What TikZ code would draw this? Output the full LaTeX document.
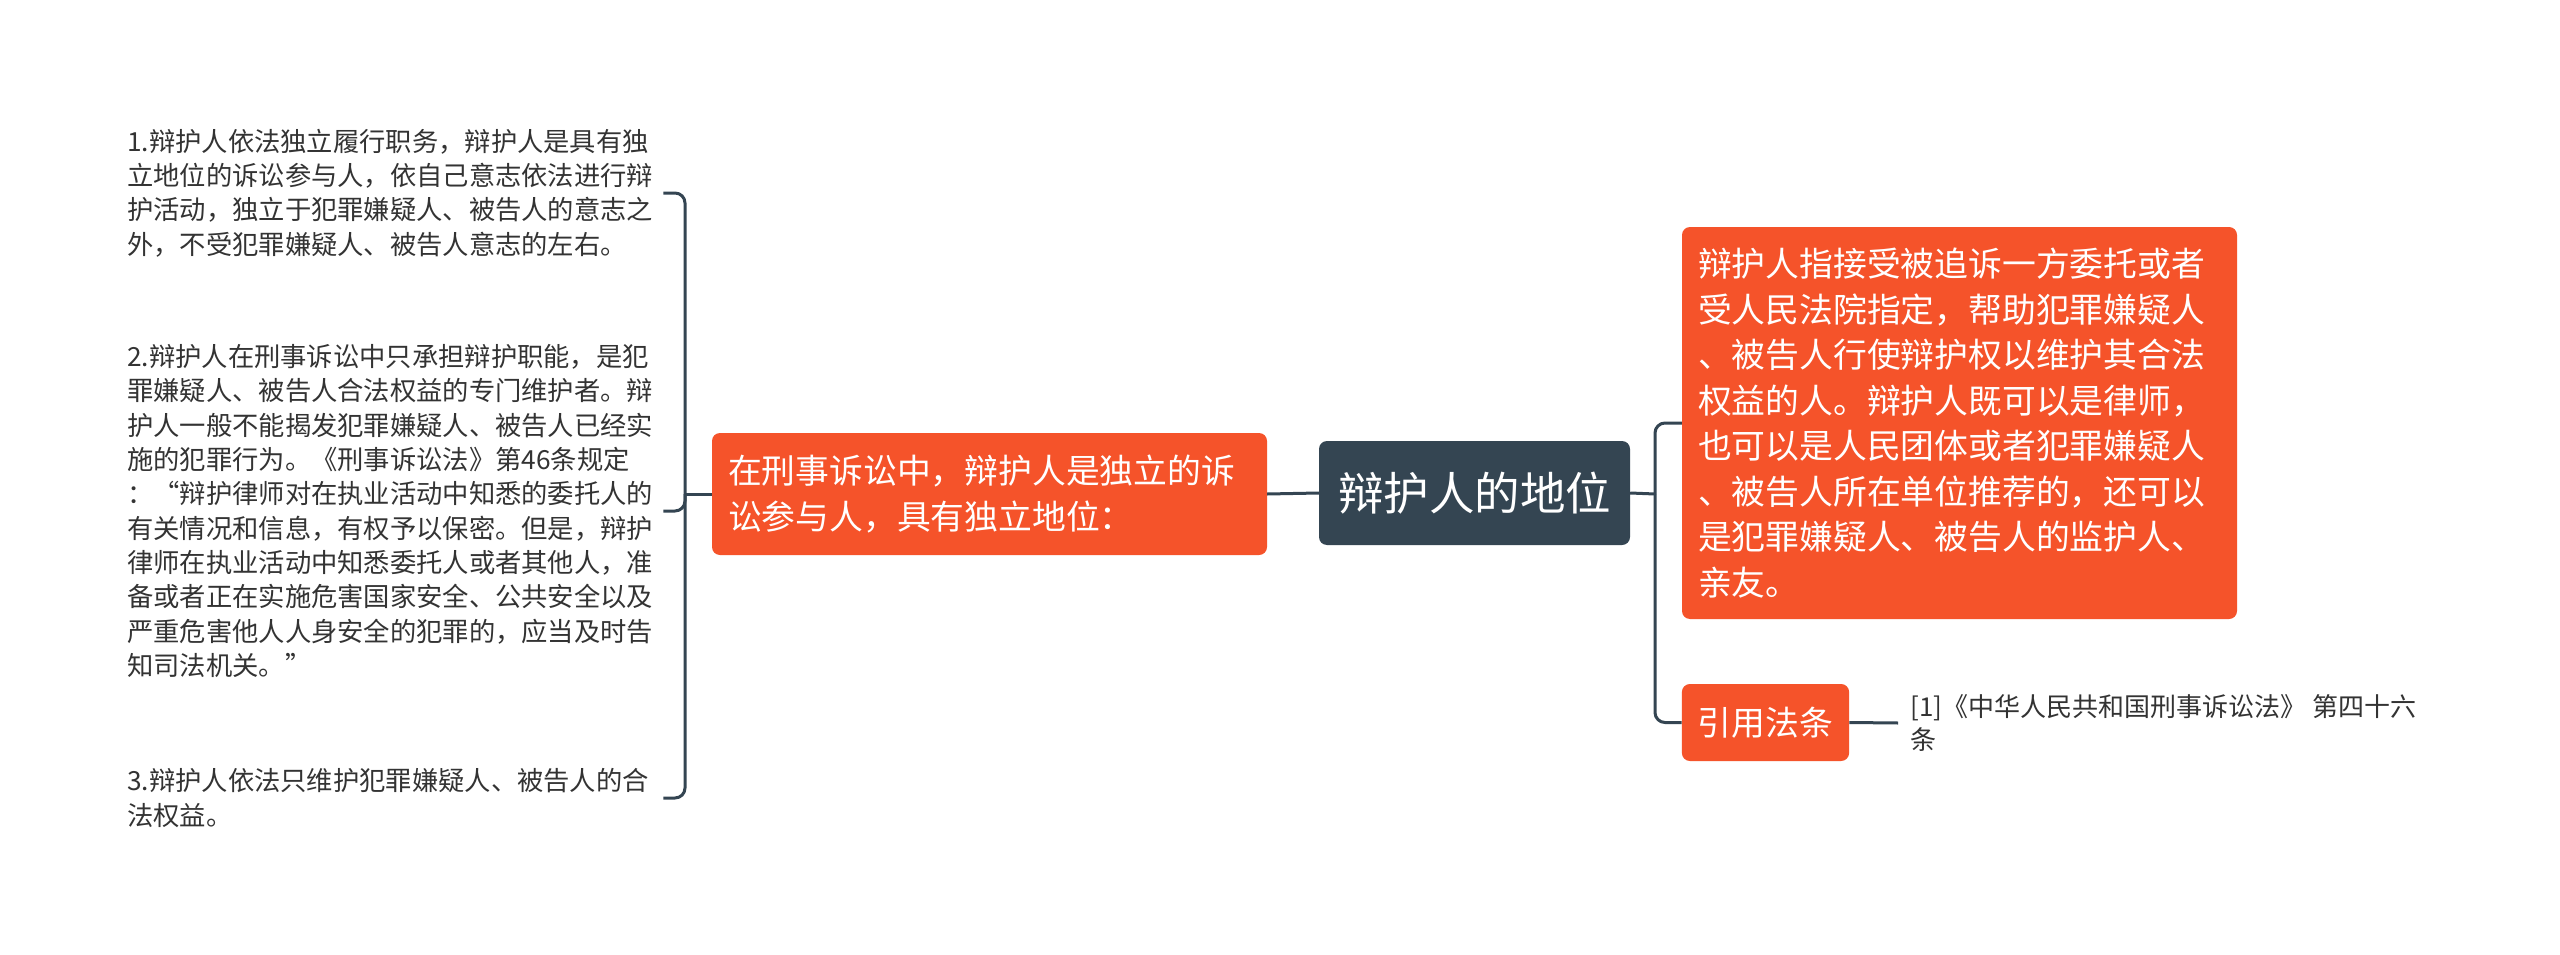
\documentclass[tikz,border=0pt]{standalone}
\usepackage{fontspec}
\usepackage{xcolor}
\usepackage{tikz}
\setmainfont{Noto Sans CJK SC}
\definecolor{myOrange}{RGB}{245,83,42}
\definecolor{mySlate}{RGB}{52,69,82}
\definecolor{myText}{RGB}{51,51,51}

\begin{document}
\begin{tikzpicture}[x=1pt,y=-1pt]
\tikzset{
    root block/.style={
        rectangle, fill=mySlate, text=white,
        minimum width=311pt, minimum height=104pt,
        rounded corners=8pt, align=center,
        font=\fontsize{45.5}{56}\selectfont
    },
    topic block/.style={
        rectangle, fill=myOrange, text=white,
        rounded corners=8pt, align=left,
        inner xsep=16pt, inner ysep=12pt,
        font=\fontsize{33.8}{45.5}\selectfont
    },
    leaf text/.style={
        inner sep=0pt, align=left, text=myText,
        text width=536pt,
        font=\fontsize{26.3}{34.3}\selectfont
    },
    link/.style={
        draw=mySlate, line width=3pt, rounded corners=10pt
    }
}
\useasboundingbox[fill=white] (0,0) rectangle (2560,955);

% Noduri
\node[root block] (root) at (1474.5,493) {辩护人的地位};
\node[topic block, text width=523pt, minimum height=122pt] (indep) at (989.5,494)
    {在刑事诉讼中，辩护人是独立的诉\\讼参与人，具有独立地位：};
\node[topic block, text width=523pt, minimum height=392pt] (def) at (1959.5,423)
    {辩护人指接受被追诉一方委托或者\\受人民法院指定，帮助犯罪嫌疑人\\、被告人行使辩护权以维护其合法\\权益的人。辩护人既可以是律师，\\也可以是人民团体或者犯罪嫌疑人\\、被告人所在单位推荐的，还可以\\是犯罪嫌疑人、被告人的监护人、\\亲友。};
\node[topic block, minimum width=167pt, minimum height=77pt, align=center] (cite) at (1765.5,722.5) {引用法条};

\node[leaf text, anchor=west] (leafA) at (127,193)
    {1.辩护人依法独立履行职务，辩护人是具有独\\立地位的诉讼参与人，依自己意志依法进行辩\\护活动，独立于犯罪嫌疑人、被告人的意志之\\外，不受犯罪嫌疑人、被告人意志的左右。};
\node[leaf text, anchor=west] (leafB) at (127,511)
    {2.辩护人在刑事诉讼中只承担辩护职能，是犯\\罪嫌疑人、被告人合法权益的专门维护者。辩\\护人一般不能揭发犯罪嫌疑人、被告人已经实\\施的犯罪行为。《刑事诉讼法》第46条规定\\：“辩护律师对在执业活动中知悉的委托人的\\有关情况和信息，有权予以保密。但是，辩护\\律师在执业活动中知悉委托人或者其他人，准\\备或者正在实施危害国家安全、公共安全以及\\严重危害他人人身安全的犯罪的，应当及时告\\知司法机关。”};
\node[leaf text, anchor=west] (leafC) at (127,798)
    {3.辩护人依法只维护犯罪嫌疑人、被告人的合\\法权益。};
\node[inner xsep=12pt, inner ysep=0pt, anchor=west, align=left, text=myText,
      font=\fontsize{26}{33}\selectfont] (law) at (1898,723)
    {[1]《中华人民共和国刑事诉讼法》 第四十六\\条};

% Sageti
\coordinate (lj) at (685,494);
\coordinate (rj) at (1655,494);
\draw[link] (root.west) -- (indep.east);
\draw[link] (indep.west) -- (lj);
\draw[link] (lj) |- (leafA.east);
\draw[link] (lj) |- (leafB.east);
\draw[link] (lj) |- (leafC.east);
\draw[link] (root.east) -- (rj);
\draw[link] (rj) |- (def.west);
\draw[link] (rj) |- (cite.west);
\draw[link] (cite.east) -- (law.west);
\end{tikzpicture}
\end{document}
